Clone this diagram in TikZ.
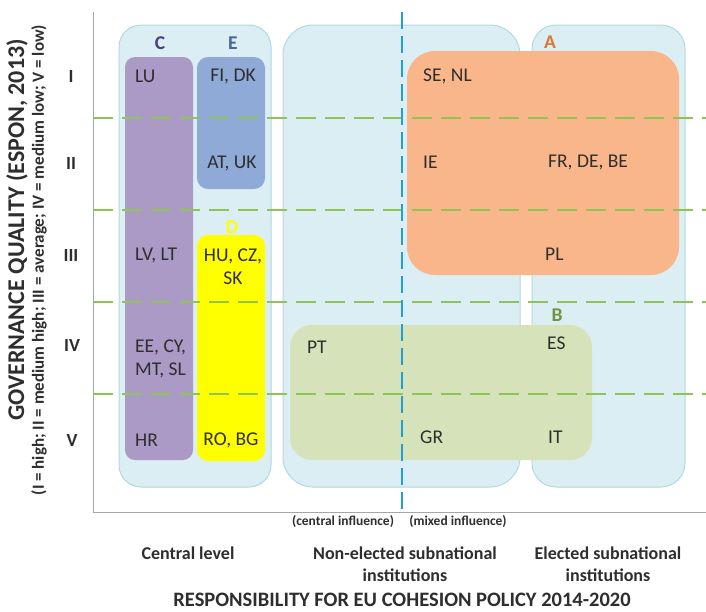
\documentclass[tikz,border=0pt]{standalone}
\usepackage{fontspec}
\setmainfont{Carlito}
\definecolor{panel}{HTML}{DBEEF4}
\definecolor{panelb}{HTML}{B3D8E3}
\definecolor{purp}{HTML}{AB99C6}
\definecolor{blueE}{HTML}{8FAAD6}
\definecolor{orng}{HTML}{F9B68A}
\definecolor{grn}{HTML}{D6E3BA}
\definecolor{yel}{HTML}{FFFF00}
\definecolor{dgreen}{HTML}{8DC453}
\definecolor{dblue}{HTML}{1E9FDA}
\definecolor{txt}{HTML}{2E2E2E}
\definecolor{axisc}{HTML}{A6A6A6}
\definecolor{lblC}{HTML}{4E3F7A}
\definecolor{lblE}{HTML}{46679C}
\definecolor{lblA}{HTML}{E0752F}
\definecolor{lblB}{HTML}{76923C}
\begin{document}
\begin{tikzpicture}[x=1pt,y=-1pt,
  panelbox/.style={fill=panel,draw=panelb,line width=1pt},
  cell/.style={text=txt,font=\fontsize{19.5}{23}\selectfont,inner sep=0pt},
  cellw/.style={cell,anchor=west},
  grp/.style={font=\bfseries\fontsize{19.5}{23}\selectfont,inner sep=0pt},
  rowlbl/.style={text=txt,font=\bfseries\fontsize{18.5}{22}\selectfont,inner sep=0pt},
  axtitle/.style={text=txt,font=\bfseries\fontsize{20.5}{24}\selectfont,inner sep=0pt},
  catlbl/.style={text=txt,font=\bfseries\fontsize{18}{22}\selectfont,inner sep=0pt,align=center},
  inflbl/.style={text=txt,font=\bfseries\fontsize{13.5}{16}\selectfont,inner sep=0pt},
  gdash/.style={dgreen,line width=2.5pt,dash pattern=on 20pt off 9pt},
  bdash/.style={dblue,line width=2.5pt,dash pattern=on 17pt off 7pt}]
\useasboundingbox (0,0) rectangle (706,611);
\fill[white] (0,0) rectangle (706,611);
% panels
\draw[panelbox,rounded corners=22pt] (119,25) rectangle (271,487);
\draw[panelbox,rounded corners=30pt] (283,25) rectangle (520,487);
\draw[panelbox,rounded corners=24pt] (532,25) rectangle (685,487);
% groups
\fill[orng,rounded corners=28pt] (407,51) rectangle (679,275);
\fill[grn,rounded corners=22pt] (290,325) rectangle (592,460);
\fill[purp,rounded corners=10pt] (125,57) rectangle (193,460);
\fill[blueE,rounded corners=11pt] (197,57) rectangle (265,189);
\fill[yel,rounded corners=11pt] (197,235) rectangle (265,461);
% axes
\draw[axisc,line width=1pt] (93,12) -- (93,512) -- (706,512);
% dashed lines
\foreach \yy in {118,210,302,394} \draw[gdash] (93,\yy) -- (706,\yy);
\draw[bdash] (402,12) -- (402,512);
% group labels
\node[grp,text=lblC] (lC) at (160,43) {C};
\node[grp,text=lblE] (lE) at (233,43) {E};
\node[grp,text=yel] (lD) at (232,227) {D};
\node[grp,text=lblA] (lA) at (550,42) {A};
\node[grp,text=lblB] (lB) at (557,315) {B};
% row labels
\node[rowlbl] (r1) at (71,76) {I};
\node[rowlbl] (r2) at (71,163) {II};
\node[rowlbl] (r3) at (71,255) {III};
\node[rowlbl] (r4) at (72,345) {IV};
\node[rowlbl] (r5) at (72,440) {V};
% cells
\node[cellw] (lu) at (135,76) {LU};
\node[cell] (fidk) at (233,76) {FI, DK};
\node[cell] (atuk) at (232,163) {AT, UK};
\node[cellw] (lvlt) at (135,255) {LV, LT};
\node[cell,align=center] (hucz) at (233,266.5) {HU, CZ,\\SK};
\node[cellw,align=left] (eecy) at (135,358.5) {EE, CY,\\MT, SL};
\node[cellw] (hr) at (135,440) {HR};
\node[cell] (robg) at (231,440) {RO, BG};
\node[cellw] (senl) at (423,76) {SE, NL};
\node[cellw] (ie) at (423,162) {IE};
\node[cellw] (frde) at (548,162) {FR, DE, BE};
\node[cellw] (pl) at (545,254) {PL};
\node[cellw] (pt) at (307,347) {PT};
\node[cellw] (es) at (547,343) {ES};
\node[cellw] (gr) at (420,437) {GR};
\node[cellw] (it) at (548,437) {IT};
% axis titles
\node[axtitle,rotate=90,font=\bfseries\fontsize{24}{28}\selectfont] (yt) at (17,230) {GOVERNANCE QUALITY (ESPON, 2013)};
\node[inflbl,rotate=90,font=\bfseries\fontsize{17}{20}\selectfont] (ys) at (39,260) {(I = high; II = medium high; III = average; IV = medium low; V = low)};
\node[inflbl] (ci) at (343,522) {(central influence)};
\node[inflbl] (mi) at (458,522) {(mixed influence)};
\node[catlbl] (cl) at (188,553) {Central level};
\node[catlbl] (ne) at (405,564) {Non-elected subnational\\institutions};
\node[catlbl] (el) at (608,564) {Elected subnational\\institutions};
\node[axtitle] (xt) at (402,600) {RESPONSIBILITY FOR EU COHESION POLICY 2014-2020};
\end{tikzpicture}
\end{document}
